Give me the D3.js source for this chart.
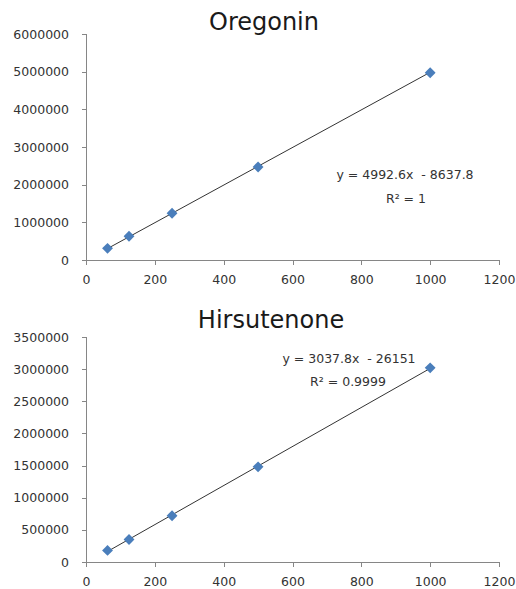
<!DOCTYPE html>
<html>
<head>
<meta charset="utf-8">
<script src="https://cdn.jsdelivr.net/npm/d3@7"></script>
<style>
    body { margin: 0; background: #fff; }
    .axis path, .axis line { stroke: #868686; shape-rendering: crispEdges; }
    .axis text { font-family: "DejaVu Sans", sans-serif; font-size: 12.5px; fill: #333; }
    .title { font-family: "DejaVu Sans", sans-serif; font-size: 24px; fill: #1a1a1a; }
    .eq { font-family: "DejaVu Sans", sans-serif; font-size: 12.5px; fill: #333; white-space: pre; }
</style>
</head>
<body>
<svg id="chart" width="516" height="589"></svg>
<script>
(function () {
    "use strict";

    // concentrations (x) shared by both curves
    var concentrations = [62.5, 125, 250, 500, 1000];
    var xTicks = [0, 200, 400, 600, 800, 1000, 1200];

    var oregoninValues = [310000, 630000, 1240000, 2470000, 4970000];
    var oregoninTicks = [0, 1000000, 2000000, 3000000, 4000000, 5000000, 6000000];
    var oregoninFit = [4992.6, -8637.8];
    var oregoninLabels = ["y = 4992.6x  - 8637.8", "R\u00b2 = 1"];

    var hirsutenoneValues = [180000, 350000, 720000, 1480000, 3020000];
    var hirsutenoneTicks = [0, 500000, 1000000, 1500000, 2000000, 2500000, 3000000, 3500000];
    var hirsutenoneFit = [3037.8, -26151];
    var hirsutenoneLabels = ["y = 3037.8x  - 26151", "R\u00b2 = 0.9999"];

    var $svg = d3.select("#chart");

    function drawPanel(opts) {
        var x = d3.scaleLinear().domain([0, 1200]).range([86, 499]);
        var y = d3.scaleLinear().domain([0, opts.yTicks[opts.yTicks.length - 1]]).range([opts.bottom, opts.top]);

        var $g = $svg.append("g");

        $g.append("text")
            .attr("class", "title")
            .attr("x", opts.titleX)
            .attr("y", opts.titleY)
            .attr("text-anchor", "middle")
            .attr("dominant-baseline", "central")
            .text(opts.title);

        $g.append("g")
            .attr("class", "axis")
            .attr("transform", "translate(86,0)")
            .call(d3.axisLeft(y).tickValues(opts.yTicks).tickFormat(d3.format("d")).tickSizeOuter(0).tickSize(4).tickPadding(13));

        $g.append("g")
            .attr("class", "axis")
            .attr("transform", "translate(0," + opts.bottom + ")")
            .call(d3.axisBottom(x).tickValues(xTicks).tickFormat(d3.format("d")).tickSizeOuter(0).tickSize(5).tickPadding(10));

        // trendline over the data range
        var x0 = d3.min(concentrations), x1 = d3.max(concentrations);
        $g.append("line")
            .attr("x1", x(x0)).attr("y1", y(opts.fit[0] * x0 + opts.fit[1]))
            .attr("x2", x(x1)).attr("y2", y(opts.fit[0] * x1 + opts.fit[1]))
            .attr("stroke", "#333")
            .attr("stroke-width", 1);

        $g.selectAll(".pt")
            .data(concentrations.map(function (c, i) { return [c, opts.values[i]]; }))
            .enter()
            .append("path")
            .attr("class", "pt")
            .attr("d", d3.symbol().type(d3.symbolDiamond2).size(75))
            .attr("transform", function (d) { return "translate(" + x(d[0]) + "," + y(d[1]) + ")"; })
            .attr("fill", "#4a7ebb");

        $g.selectAll(".eq")
            .data(opts.labels)
            .enter()
            .append("text")
            .attr("class", "eq")
            .attr("x", function (d, i) { return opts.eqX[i]; })
            .attr("y", function (d, i) { return opts.eqY[i]; })
            .attr("text-anchor", "middle")
            .attr("dominant-baseline", "central")
            .text(String);
    }

    drawPanel({
        title: "Oregonin", titleX: 264, titleY: 22,
        top: 34, bottom: 260,
        yTicks: oregoninTicks, values: oregoninValues, fit: oregoninFit,
        labels: oregoninLabels, eqX: [405, 406], eqY: [174, 198]
    });

    drawPanel({
        title: "Hirsutenone", titleX: 271, titleY: 320,
        top: 337, bottom: 562,
        yTicks: hirsutenoneTicks, values: hirsutenoneValues, fit: hirsutenoneFit,
        labels: hirsutenoneLabels, eqX: [349, 348], eqY: [358, 381]
    });
}());
</script>
</body>
</html>
